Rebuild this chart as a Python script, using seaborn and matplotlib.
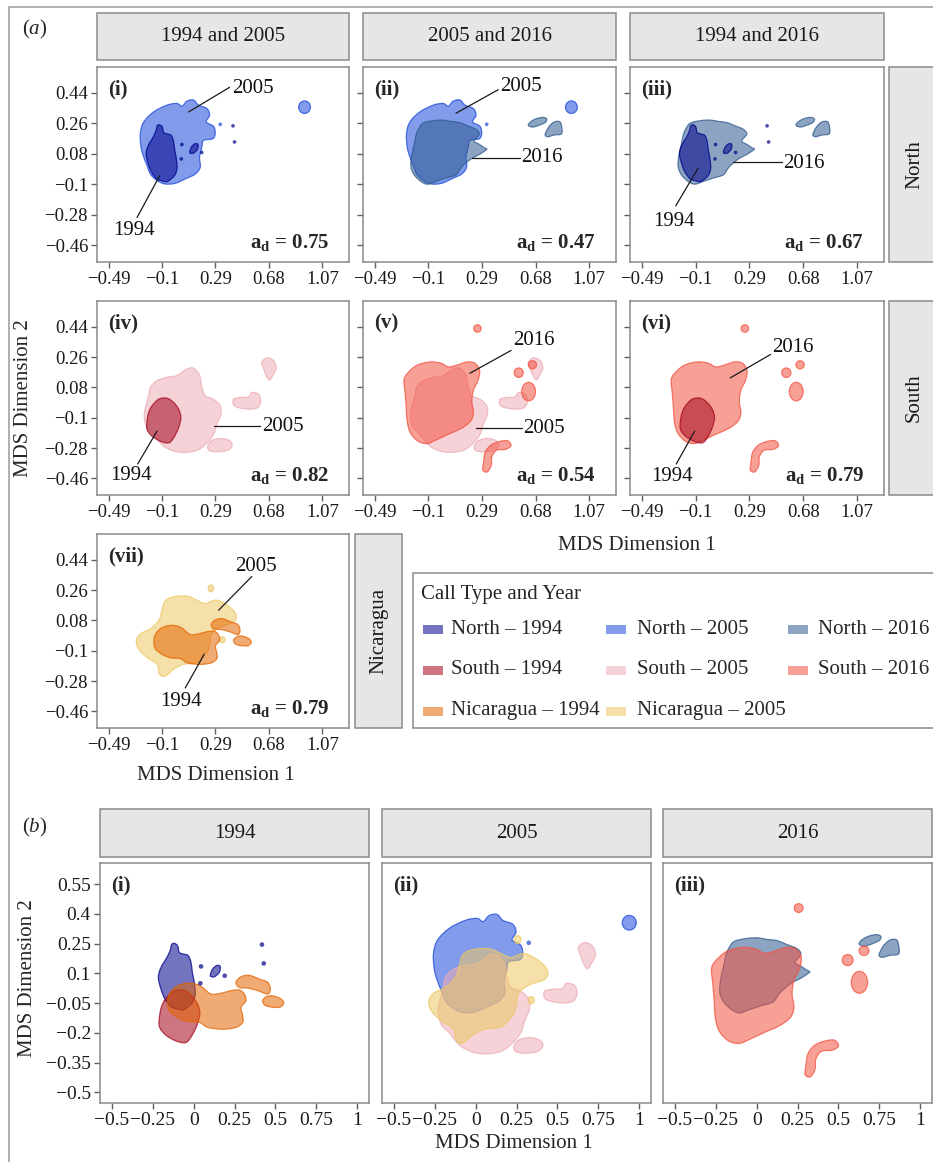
import numpy as np
import matplotlib
matplotlib.use("Agg")
import matplotlib.pyplot as plt
from matplotlib.path import Path
from matplotlib.patches import PathPatch, Ellipse, Rectangle
from matplotlib.colors import to_rgb
import seaborn as sns

# ------------------------------------------------------------------
# Highest-density regions of each call type / year in MDS space
# (outline vertices: MDS dimension 1, MDS dimension 2)
# ------------------------------------------------------------------
north_1994_x = [-0.118, -0.098, -0.088, -0.061, -0.033, -0.016, -0.008, 0.004, 0.010, -0.006,
                -0.040, -0.067, -0.105, -0.139, -0.176, -0.200, -0.216, -0.200, -0.163, -0.143, -0.135]
north_1994_y = [0.251, 0.239, 0.206, 0.197, 0.189, 0.155, 0.105, 0.055, -0.004, -0.046,
                -0.072, -0.085, -0.078, -0.068, -0.029, 0.021, 0.080, 0.130, 0.181, 0.218, 0.245]
north_1994_blob_x = [0.102, 0.116, 0.143, 0.163, 0.157, 0.127]
north_1994_blob_y = [0.088, 0.122, 0.140, 0.134, 0.105, 0.083]
north_1994_dots_x = [0.045, 0.041, 0.190, 0.418, 0.429]
north_1994_dots_y = [0.135, 0.050, 0.088, 0.245, 0.150]

north_2005_x = [-0.258, -0.233, -0.161, -0.064, 0.009, 0.046, 0.082, 0.131, 0.167, 0.228, 0.247, 0.223,
                0.276, 0.288, 0.271, 0.203, 0.191, 0.174, 0.179, 0.143, 0.070, -0.003, -0.076, -0.136,
                -0.185, -0.209, -0.233, -0.253]
north_2005_y = [0.200, 0.268, 0.327, 0.367, 0.377, 0.361, 0.391, 0.397, 0.367, 0.347, 0.307, 0.268,
                0.242, 0.199, 0.169, 0.159, 0.120, 0.060, 0.001, -0.039, -0.068, -0.094, -0.098, -0.078,
                -0.039, 0.011, 0.060, 0.120]
north_2005_dots_x = [0.325]
north_2005_dots_y = [0.254]
north_2005_spots = [(0.940, 0.355, 0.043, 0.037)]          # centre x, centre y, half-width, half-height

north_2016_x = [-0.178, -0.141, -0.069, 0.004, 0.065, 0.125, 0.186, 0.246, 0.271, 0.234, 0.271, 0.307,
                0.324, 0.271, 0.222, 0.174, 0.137, 0.101, 0.028, -0.044, -0.105, -0.153, -0.202, -0.226,
                -0.219, -0.202, -0.190]
north_2016_y = [0.215, 0.259, 0.275, 0.279, 0.271, 0.265, 0.245, 0.225, 0.196, 0.156, 0.136, 0.116,
                0.106, 0.076, 0.056, 0.026, -0.004, -0.044, -0.063, -0.083, -0.099, -0.083, -0.044, 0.006,
                0.076, 0.136, 0.186]
north_2016_blob1_x = [0.627, 0.643, 0.684, 0.735, 0.761, 0.749, 0.704, 0.659]
north_2016_blob1_y = [0.248, 0.268, 0.287, 0.295, 0.285, 0.265, 0.248, 0.238]
north_2016_blob2_x = [0.749, 0.776, 0.816, 0.857, 0.871, 0.867, 0.816, 0.769]
north_2016_blob2_y = [0.194, 0.239, 0.268, 0.268, 0.231, 0.197, 0.191, 0.181]

south_1994_x = [-0.173, -0.124, -0.064, -0.015, 0.021, 0.038, 0.021, -0.015, -0.051, -0.112, -0.173,
                -0.209, -0.209, -0.197]
south_1994_y = [-0.030, 0.010, 0.016, -0.010, -0.049, -0.099, -0.159, -0.219, -0.249, -0.239, -0.209,
                -0.169, -0.119, -0.069]

south_2005_x = [-0.185, -0.136, -0.064, 0.009, 0.070, 0.118, 0.155, 0.179, 0.191, 0.216, 0.276, 0.325,
                0.330, 0.300, 0.276, 0.228, 0.167, 0.082, -0.003, -0.076, -0.124, -0.161, -0.209, -0.229,
                -0.221, -0.197]
south_2005_y = [0.080, 0.120, 0.140, 0.150, 0.184, 0.196, 0.176, 0.140, 0.080, 0.030, 0.010, -0.030,
                -0.079, -0.139, -0.199, -0.249, -0.289, -0.305, -0.300, -0.275, -0.239, -0.199, -0.159,
                -0.099, -0.040, 0.030]
south_2005_blob1_x = [0.628, 0.665, 0.713, 0.733, 0.708, 0.684, 0.660, 0.640]
south_2005_blob1_y = [0.229, 0.255, 0.239, 0.195, 0.150, 0.124, 0.150, 0.195]
south_2005_blob2_x = [0.422, 0.470, 0.531, 0.555, 0.604, 0.621, 0.597, 0.531, 0.458, 0.422]
south_2005_blob2_y = [0.010, 0.020, 0.024, 0.050, 0.040, 0.000, -0.040, -0.049, -0.040, -0.024]
south_2005_blob3_x = [0.233, 0.264, 0.337, 0.398, 0.410, 0.373, 0.300, 0.247]
south_2005_blob3_y = [-0.269, -0.235, -0.223, -0.239, -0.269, -0.295, -0.302, -0.295]

south_2016_x = [-0.275, -0.230, -0.174, -0.085, -0.007, 0.049, 0.116, 0.183, 0.239, 0.273, 0.262, 0.228,
                0.217, 0.228, 0.206, 0.139, 0.049, -0.040, -0.107, -0.174, -0.230, -0.253, -0.260, -0.268]
south_2016_y = [0.130, 0.181, 0.214, 0.231, 0.223, 0.201, 0.214, 0.231, 0.223, 0.181, 0.122, 0.063,
                -0.004, -0.071, -0.122, -0.164, -0.197, -0.231, -0.253, -0.239, -0.189, -0.122, -0.038, 0.046]
south_2016_hook_x = [0.300, 0.313, 0.351, 0.407, 0.474, 0.501, 0.463, 0.396, 0.362, 0.358, 0.329, 0.297]
south_2016_hook_y = [-0.374, -0.307, -0.265, -0.243, -0.236, -0.265, -0.287, -0.293, -0.332, -0.382,
                     -0.421, -0.411]
south_2016_spots = [(0.629, 0.055, 0.050, 0.055), (0.657, 0.214, 0.030, 0.024),
                    (0.557, 0.167, 0.033, 0.028), (0.257, 0.429, 0.027, 0.022)]

nica_1994_x = [-0.159, -0.149, -0.108, -0.047, 0.014, 0.055, 0.106, 0.167, 0.229, 0.280, 0.310, 0.320,
               0.290, 0.300, 0.300, 0.259, 0.178, 0.086, 0.035, -0.037, -0.098, -0.149]
nica_1994_y = [-0.046, -0.004, 0.033, 0.050, 0.046, 0.029, -0.004, 0.000, 0.013, 0.016, -0.004, -0.038,
               -0.071, -0.113, -0.147, -0.172, -0.181, -0.172, -0.147, -0.142, -0.122, -0.088]
nica_1994_arm_x = [0.259, 0.290, 0.341, 0.402, 0.453, 0.469, 0.453, 0.392, 0.331, 0.280]
nica_1994_arm_y = [0.055, 0.083, 0.090, 0.071, 0.055, 0.021, -0.004, 0.013, 0.026, 0.029]
nica_1994_tip_x = [0.422, 0.443, 0.484, 0.535, 0.551, 0.524, 0.463, 0.433]
nica_1994_tip_y = [-0.038, -0.018, -0.013, -0.029, -0.051, -0.071, -0.068, -0.058]

nica_2005_x = [-0.076, -0.015, 0.082, 0.155, 0.216, 0.300, 0.398, 0.441, 0.422, 0.325, 0.262, 0.250,
               0.228, 0.155, 0.058, -0.015, -0.076, -0.117, -0.136, -0.209, -0.270, -0.287, -0.258,
               -0.185, -0.124, -0.100]
nica_2005_y = [0.196, 0.220, 0.224, 0.200, 0.180, 0.200, 0.156, 0.110, 0.070, 0.040, 0.000, -0.060,
               -0.110, -0.170, -0.180, -0.210, -0.250, -0.240, -0.180, -0.140, -0.090, -0.040, 0.000,
               0.030, 0.080, 0.140]
nica_2005_spots = [(0.257, 0.270, 0.020, 0.020), (0.340, -0.035, 0.020, 0.018)]

# groups shown in the legend, in legend order
groups = ["North – 1994", "North – 2005", "North – 2016",
          "South – 1994", "South – 2005", "South – 2016",
          "Nicaragua – 1994", "Nicaragua – 2005"]
group_colors = ["#000089", "#1c49db", "#2e5a8e",
                "#a4061c", "#edadb6", "#f25240",
                "#e46400", "#edc864"]

# tick values of the two sections
a_xticks = [-0.49, -0.1, 0.29, 0.68, 1.07]
a_yticks = [-0.46, -0.28, -0.1, 0.08, 0.26, 0.44]
b_xticks = [-0.5, -0.25, 0, 0.25, 0.5, 0.75, 1]
b_yticks = [-0.5, -0.35, -0.2, -0.05, 0.1, 0.25, 0.4, 0.55]

# overlap (a_d) statistic for each pairwise panel
a_tags = ["(i)", "(ii)", "(iii)", "(iv)", "(v)", "(vi)", "(vii)"]
a_overlap = ["0.75", "0.47", "0.67", "0.82", "0.54", "0.79", "0.79"]
col_titles_a = ["1994 and 2005", "2005 and 2016", "1994 and 2016"]
row_titles_a = ["North", "South", "Nicaragua"]
col_titles_b = ["1994", "2005", "2016"]
b_tags = ["(i)", "(ii)", "(iii)"]

# ------------------------------------------------------------------
regions = {
    "North – 1994": dict(polys=[(north_1994_x, north_1994_y), (north_1994_blob_x, north_1994_blob_y)],
                         spots=[], dots=(north_1994_dots_x, north_1994_dots_y)),
    "North – 2005": dict(polys=[(north_2005_x, north_2005_y)], spots=north_2005_spots,
                         dots=(north_2005_dots_x, north_2005_dots_y)),
    "North – 2016": dict(polys=[(north_2016_x, north_2016_y), (north_2016_blob1_x, north_2016_blob1_y),
                                (north_2016_blob2_x, north_2016_blob2_y)], spots=[], dots=None),
    "South – 1994": dict(polys=[(south_1994_x, south_1994_y)], spots=[], dots=None),
    "South – 2005": dict(polys=[(south_2005_x, south_2005_y), (south_2005_blob1_x, south_2005_blob1_y),
                                (south_2005_blob2_x, south_2005_blob2_y), (south_2005_blob3_x, south_2005_blob3_y)],
                         spots=[], dots=None),
    "South – 2016": dict(polys=[(south_2016_x, south_2016_y), (south_2016_hook_x, south_2016_hook_y)],
                         spots=south_2016_spots, dots=None),
    "Nicaragua – 1994": dict(polys=[(nica_1994_x, nica_1994_y), (nica_1994_arm_x, nica_1994_arm_y),
                                    (nica_1994_tip_x, nica_1994_tip_y)], spots=[], dots=None),
    "Nicaragua – 2005": dict(polys=[(nica_2005_x, nica_2005_y)], spots=nica_2005_spots, dots=None),
}
palette = dict(zip(groups, group_colors))

FILL_ALPHA = 0.55
EDGE_ALPHA = 0.75

sns.set_theme(style="ticks")
plt.rcParams["font.family"] = ["Liberation Serif", "DejaVu Serif"]
plt.rcParams["mathtext.fontset"] = "custom"
plt.rcParams["mathtext.rm"] = "Liberation Serif"
plt.rcParams["mathtext.it"] = "Liberation Serif:italic"
plt.rcParams["mathtext.bf"] = "Liberation Serif:bold"
plt.rcParams["axes.unicode_minus"] = True

W, H = 933, 1162
fig = plt.figure(figsize=(W / 100, H / 100), dpi=100)
fig.patch.set_facecolor("white")

SPINE = "#8a8a8a"
STRIP_FC = "#e6e6e6"


def add_ax(x0, y0, x1, y1):
    return fig.add_axes([x0 / W, 1 - y1 / H, (x1 - x0) / W, (y1 - y0) / H])


def closed_path(xs, ys):
    """Smooth closed Catmull-Rom outline through the vertices."""
    p = np.column_stack([xs, ys]).astype(float)
    n = len(p)
    verts, codes = [p[0]], [Path.MOVETO]
    for i in range(n):
        p0, p1, p2, p3 = p[i - 1], p[i], p[(i + 1) % n], p[(i + 2) % n]
        verts += [p1 + (p2 - p0) / 6, p2 - (p3 - p1) / 6, p2]
        codes += [Path.CURVE4] * 3
    verts.append(p[0])
    codes.append(Path.CLOSEPOLY)
    return Path(verts, codes)


def draw_region(ax, name, dot_size):
    rgb = to_rgb(palette[name])
    reg = regions[name]
    kw = dict(facecolor=(*rgb, FILL_ALPHA), edgecolor=(*rgb, EDGE_ALPHA), lw=0.9)
    for xs, ys in reg["polys"]:
        ax.add_patch(PathPatch(closed_path(xs, ys), **kw))
    for cx, cy, rx, ry in reg["spots"]:
        ax.add_patch(Ellipse((cx, cy), 2 * rx, 2 * ry, **kw))
    if reg["dots"] is not None:
        sns.scatterplot(x=reg["dots"][0], y=reg["dots"][1], ax=ax, color=rgb, alpha=0.7,
                        s=dot_size, edgecolor="none", legend=False, zorder=3)


def fmt(v):
    return f"{v:g}".replace("-", "\u2212")


def style_axes(ax, xlim, ylim, xt, yt, ylabels, yticks_on, size):
    ax.set_xlim(*xlim)
    ax.set_ylim(*ylim)
    ax.set_xticks(xt)
    ax.set_xticklabels([fmt(v) for v in xt])
    if yticks_on:
        ax.set_yticks(yt)
        ax.set_yticklabels([fmt(v) for v in yt] if ylabels else [])
    else:
        ax.set_yticks([])
    ax.set_xlabel("")
    ax.set_ylabel("")
    ax.tick_params(axis="both", length=4, width=1.0, color="#5f5f5f", pad=2.5,
                   labelsize=size, labelcolor="#1a1a1a", bottom=True, left=yticks_on)
    for s in ax.spines.values():
        s.set_color(SPINE)
        s.set_linewidth(1.1)
    ax.set_facecolor("white")


def note(ax, text, x0, y0, x1, y1, tx, ty, ha):
    ax.plot([x0, x1], [y0, y1], color="#1a1a1a", lw=0.9, zorder=5)
    ax.text(tx, ty, text, ha=ha, va="center", fontsize=15, color="#111111", zorder=5)


def tags(ax, tag, ad=None):
    ax.annotate(tag, xy=(0, 1), xycoords="axes fraction", xytext=(11, -12),
                textcoords="offset pixels", ha="left", va="top", fontsize=15, fontweight="bold")
    if ad is not None:
        ax.annotate(r"$\mathbf{a_d}$ = " + ad, xy=(1, 0), xycoords="axes fraction", xytext=(-20, 14),
                    textcoords="offset pixels", ha="right", va="baseline", fontsize=15,
                    fontweight="bold")


# ---------------- section (a): pairwise comparisons ----------------
A_COLS = [(97, 349), (363, 616), (630, 884)]
A_ROWS = [(67, 262), (301, 495), (534, 728)]
A_XLIM = (-0.574, 1.264)
A_YLIM = (-0.558, 0.592)

a_layout = [
    (0, 0, ["North – 2005", "North – 1994"],
     [("2005", 0.094, 0.327, 0.393, 0.472, 0.410, 0.466, "left"),
      ("1994", -0.117, -0.049, -0.282, -0.296, -0.306, -0.371, "center")]),
    (0, 1, ["North – 2005", "North – 2016"],
     [("2005", 0.101, 0.319, 0.408, 0.458, 0.420, 0.478, "left"),
      ("2016", 0.215, 0.056, 0.566, 0.056, 0.575, 0.056, "left")]),
    (0, 2, ["North – 2016", "North – 1994"],
     [("2016", 0.174, 0.032, 0.525, 0.032, 0.535, 0.025, "left"),
      ("1994", -0.081, -0.004, -0.243, -0.227, -0.257, -0.322, "center")]),
    (1, 0, ["South – 2005", "South – 1994"],
     [("2005", 0.276, -0.149, 0.616, -0.149, 0.630, -0.149, "left"),
      ("1994", -0.136, -0.179, -0.277, -0.374, -0.326, -0.442, "center")]),
    (1, 1, ["South – 2005", "South – 2016"],
     [("2016", 0.203, 0.164, 0.502, 0.299, 0.515, 0.359, "left"),
      ("2005", 0.245, -0.163, 0.581, -0.163, 0.590, -0.163, "left")]),
    (1, 2, ["South – 2016", "South – 1994"],
     [("2016", 0.151, 0.136, 0.443, 0.275, 0.455, 0.315, "left"),
      ("1994", -0.106, -0.179, -0.239, -0.374, -0.267, -0.448, "center")]),
    (2, 0, ["Nicaragua – 2005", "Nicaragua – 1994"],
     [("2005", 0.313, 0.140, 0.555, 0.340, 0.587, 0.400, "center"),
      ("1994", 0.208, -0.120, 0.070, -0.320, 0.038, -0.400, "center")]),
]

for k, (r, c, names, notes) in enumerate(a_layout):
    ax = add_ax(A_COLS[c][0], A_ROWS[r][0], A_COLS[c][1], A_ROWS[r][1])
    for nm in names:
        draw_region(ax, nm, dot_size=7)
    style_axes(ax, A_XLIM, A_YLIM, a_xticks, a_yticks, ylabels=(c == 0), yticks_on=True, size=13.5)
    for n_ in notes:
        note(ax, *n_)
    tags(ax, a_tags[k], a_overlap[k])

# ---------------- section (b): all call types per year ----------------
B_COLS = [(100, 369), (382, 651), (663, 932)]
B_ROW = (863, 1103)
B_XLIM = (-0.573, 1.073)
B_YLIM = (-0.553, 0.656)
b_layout = [["North – 1994", "South – 1994", "Nicaragua – 1994"],
            ["North – 2005", "South – 2005", "Nicaragua – 2005"],
            ["North – 2016", "South – 2016"]]
for c, names in enumerate(b_layout):
    ax = add_ax(B_COLS[c][0], B_ROW[0], B_COLS[c][1], B_ROW[1])
    for nm in names:
        draw_region(ax, nm, dot_size=11)
    style_axes(ax, B_XLIM, B_YLIM, b_xticks, b_yticks, ylabels=True, yticks_on=(c == 0), size=14)
    tags(ax, b_tags[c])

# ---------------- frame, strips, titles, legend ----------------
ov = fig.add_axes([0, 0, 1, 1], zorder=-1)
ov.set_xlim(0, W)
ov.set_ylim(H, 0)
ov.axis("off")

ov.plot([9, 9, W + 5], [H + 5, 7, 7], color="#9a9a9a", lw=1.1, solid_joinstyle="miter")


def strip(x0, y0, x1, y1, text, rotation=0):
    ov.add_patch(Rectangle((x0, y0), x1 - x0, y1 - y0, facecolor=STRIP_FC, edgecolor=SPINE, lw=1.1))
    ov.text((x0 + x1) / 2, (y0 + y1) / 2, text, ha="center", va="center", rotation=rotation,
            fontsize=15, color="#1a1a1a")


for (x0, x1), t in zip(A_COLS, col_titles_a):
    strip(x0, 13, x1, 60, t)
strip(889, A_ROWS[0][0], 940, A_ROWS[0][1], row_titles_a[0], 90)
strip(889, A_ROWS[1][0], 940, A_ROWS[1][1], row_titles_a[1], 90)
strip(355, A_ROWS[2][0], 402, A_ROWS[2][1], row_titles_a[2], 90)
for (x0, x1), t in zip(B_COLS, col_titles_b):
    strip(x0, 809, x1, 857, t)

ov.text(22, 29, r"($\it{a}$)", fontsize=15, ha="left", va="center")
ov.text(22, 827, r"($\it{b}$)", fontsize=15, ha="left", va="center")

ov.text(24, 398, "MDS Dimension 2", rotation=90, ha="center", va="center", fontsize=15)
ov.text(637, 545, "MDS Dimension 1", ha="center", va="center", fontsize=15)
ov.text(216, 775, "MDS Dimension 1", ha="center", va="center", fontsize=15)
ov.text(28, 978, "MDS Dimension 2", rotation=90, ha="center", va="center", fontsize=15)
ov.text(514, 1143, "MDS Dimension 1", ha="center", va="center", fontsize=15)

# legend
ov.add_patch(Rectangle((413, 573), 540, 155, facecolor="white", edgecolor=SPINE, lw=1.1))
ov.text(421, 594, "Call Type and Year", ha="left", va="center", fontsize=15)
key_x = [423, 606, 788]
text_x = [451, 637, 818]
row_y = [629, 670, 711]
for i, g in enumerate(groups):
    r, c = divmod(i, 3)
    rgb = to_rgb(palette[g])
    ov.add_patch(Rectangle((key_x[c], row_y[r] - 4.5), 20, 9, facecolor=(*rgb, FILL_ALPHA),
                           edgecolor="none"))
    ov.text(text_x[c], row_y[r], g, ha="left", va="center", fontsize=15)

fig.savefig("out.png", dpi=100, facecolor="white")
